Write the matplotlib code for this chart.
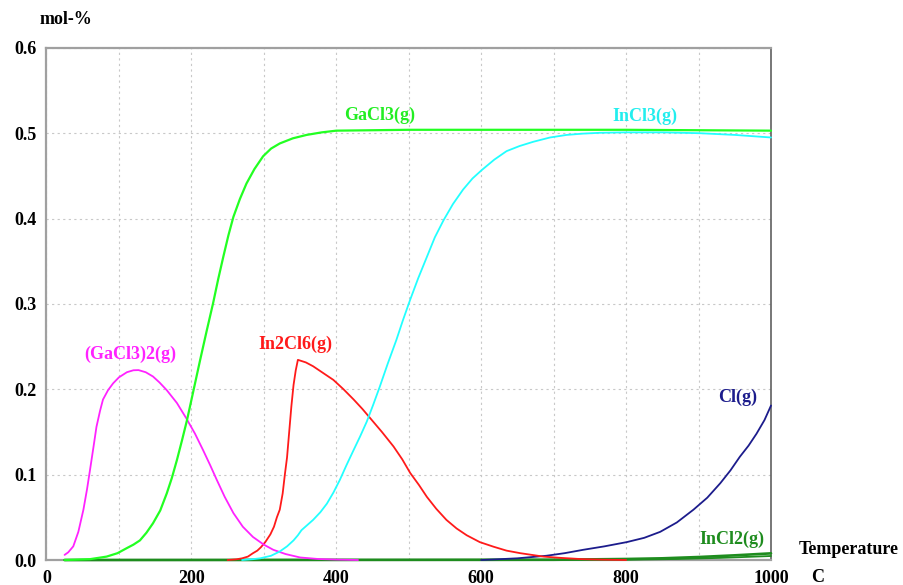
import matplotlib.pyplot as plt
import numpy as np

plt.rcParams['font.family'] = ['Liberation Serif', 'DejaVu Serif']
plt.rcParams['font.weight'] = 'bold'

# (GaCl3)2(g)
t_ga2 = [25, 30, 37, 44, 51, 56, 60, 65, 69, 74, 78, 85, 92, 100, 111, 120, 127, 137, 147, 156, 166,
         180, 193, 205, 216, 226, 235, 246, 258, 271, 285, 300, 313, 330, 350, 375, 400, 430]
y_ga2 = [0.006, 0.009, 0.016, 0.033, 0.059, 0.083, 0.105, 0.133, 0.156, 0.175, 0.188, 0.199, 0.207,
         0.214, 0.220, 0.2223, 0.2225, 0.220, 0.215, 0.208, 0.199, 0.184, 0.166, 0.148, 0.129, 0.111,
         0.094, 0.074, 0.055, 0.039, 0.027, 0.018, 0.012, 0.007, 0.003, 0.0012, 0.0005, 0.0]

# GaCl3(g)
t_ga = [25, 60, 83, 98, 111, 120, 129, 138, 147, 157, 166, 173, 180, 187, 194, 203, 212, 221, 230,
        237, 244, 251, 258, 267, 276, 287, 299, 310, 322, 340, 359, 380, 400, 500, 800, 1000]
y_ga = [0.0, 0.001, 0.004, 0.008, 0.014, 0.018, 0.023, 0.032, 0.043, 0.058, 0.078, 0.096, 0.117,
        0.140, 0.164, 0.199, 0.234, 0.268, 0.301, 0.329, 0.355, 0.380, 0.402, 0.423, 0.441, 0.458,
        0.473, 0.482, 0.488, 0.494, 0.498, 0.501, 0.503, 0.504, 0.504, 0.503]

# InCl3(g)
t_in = [270, 285, 295, 310, 322, 332, 341, 347, 352, 360, 368, 378, 387, 396, 405, 414, 424, 433,
        442, 451, 460, 471, 483, 492, 502, 513, 525, 536, 548, 561, 575, 588, 601, 618, 635, 653,
        672, 695, 718, 740, 764, 800, 850, 902, 950, 1000]
y_in = [0.0, 0.001, 0.002, 0.005, 0.010, 0.016, 0.023, 0.029, 0.035, 0.041, 0.047, 0.056, 0.066,
        0.079, 0.094, 0.111, 0.129, 0.145, 0.162, 0.182, 0.203, 0.230, 0.258, 0.281, 0.305, 0.330,
        0.355, 0.378, 0.398, 0.417, 0.434, 0.447, 0.457, 0.469, 0.479, 0.485, 0.490, 0.495, 0.498,
        0.4995, 0.5005, 0.501, 0.501, 0.500, 0.498, 0.495]

# In2Cl6(g)
t_in2 = [250, 262, 270, 278, 285, 291, 296, 302, 309, 314, 318, 322, 326, 329, 332, 335, 338, 341,
         344, 347, 358, 368, 382, 396, 410, 424, 436, 447, 463, 479, 491, 502, 514, 525, 538, 552,
         566, 580, 598, 617, 635, 654, 670, 686, 710, 740, 770, 800]
y_in2 = [0.0, 0.0008, 0.002, 0.004, 0.008, 0.011, 0.015, 0.021, 0.030, 0.039, 0.050, 0.059, 0.078,
         0.100, 0.120, 0.150, 0.180, 0.205, 0.222, 0.2345, 0.2315, 0.227, 0.219, 0.211, 0.200, 0.188,
         0.177, 0.166, 0.150, 0.133, 0.118, 0.102, 0.088, 0.074, 0.060, 0.047, 0.037, 0.029, 0.021,
         0.0156, 0.011, 0.008, 0.006, 0.004, 0.0025, 0.001, 0.0004, 0.0]

# Cl(g)
t_cl = [600, 626, 650, 670, 690, 715, 741, 770, 801, 825, 847, 870, 893, 912, 930, 944, 957, 969,
        980, 991, 1000]
y_cl = [0.0, 0.001, 0.002, 0.0035, 0.005, 0.008, 0.012, 0.016, 0.021, 0.026, 0.033, 0.044, 0.059,
        0.073, 0.090, 0.105, 0.121, 0.134, 0.148, 0.164, 0.181]

# InCl2(g)
t_incl2 = [25, 700, 800, 850, 900, 950, 1000]
y_incl2 = [0.0, 0.0003, 0.0012, 0.002, 0.0035, 0.0055, 0.0078]

# unlabeled minor species (same colour)
t_minor = [25, 800, 870, 930, 1000]
y_minor = [0.0, 0.0004, 0.0012, 0.0025, 0.0047]

fig = plt.figure(figsize=(9.04, 5.85), dpi=100)
ax = fig.add_axes([0.0514, 0.0427, 0.8015, 0.8755])

lw = 1.3
line_kw = dict(solid_joinstyle='round', solid_capstyle='round', zorder=3, clip_on=False)
ax.plot(t_minor, y_minor, color='#1e8c1e', lw=lw, **line_kw)
ax.plot(t_incl2, y_incl2, color='#1e8c1e', lw=lw + 0.6, **line_kw)
ax.plot(t_cl, y_cl, color='#1c1c8c', lw=lw, **line_kw)
ax.plot(t_in2, y_in2, color='#ff1a1a', lw=lw, **line_kw)
ax.plot(t_ga2, y_ga2, color='#ff22ff', lw=lw, **line_kw)
ax.plot(t_in, y_in, color='#22ffff', lw=lw, **line_kw)
ax.plot(t_ga, y_ga, color='#22ff22', lw=lw + 0.3, **line_kw)

fs = 13
lab = dict(fontsize=fs, fontweight='bold', ha='center', va='center')
ax.text(115, 0.241, '(GaCl3)2(g)', color='#ff22ff', **lab)
ax.text(343, 0.253, 'In2Cl6(g)', color='#ff1a1a', **lab)
ax.text(460, 0.5215, 'GaCl3(g)', color='#22ee22', **lab)
ax.text(826, 0.520, 'InCl3(g)', color='#22eeee', **lab)
ax.text(954, 0.190, 'Cl(g)', color='#1c1c8c', **lab)
ax.text(946, 0.024, 'InCl2(g)', color='#1e8c1e', **lab)

ax.set_xlim(0, 1000)
ax.set_ylim(0, 0.6)
ax.set_xticks(np.arange(0, 1001, 200))
ax.set_yticks(np.arange(0, 0.61, 0.1))
ax.set_xticks(np.arange(0, 1001, 100), minor=True)
ax.set_yticklabels(['0.0', '0.1', '0.2', '0.3', '0.4', '0.5', '0.6'])
ax.tick_params(which='both', length=0, labelsize=fs, pad=7)
for l in ax.get_xticklabels() + ax.get_yticklabels():
    l.set_fontweight('bold')
ax.grid(which='both', color='#c8c8c8', linestyle=(0, (2, 3)), lw=0.8)
ax.set_axisbelow(True)

for s in ['left', 'top', 'bottom']:
    ax.spines[s].set_color('#a0a0a0')
    ax.spines[s].set_linewidth(1.6)
ax.spines['right'].set_color('#606060')
ax.spines['right'].set_linestyle((0, (2, 1)))
ax.spines['right'].set_linewidth(1.2)

fig.text(40 / 904, 1 - 20 / 585, 'mol-%', fontsize=fs, fontweight='bold', ha='left', va='center')
fig.text(799 / 904, 1 - 550 / 585, 'Temperature', fontsize=fs, fontweight='bold', ha='left', va='center')
fig.text(811 / 904, 1 - 577 / 585, 'C', fontsize=fs, fontweight='bold', ha='left', va='center')

fig.savefig('out.png', dpi=100)
